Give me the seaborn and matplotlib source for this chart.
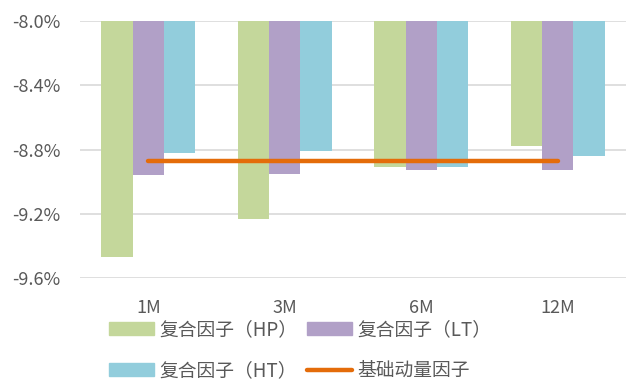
import pandas as pd
import seaborn as sns
import matplotlib.pyplot as plt
from matplotlib.ticker import FuncFormatter
from matplotlib.patches import Patch
from matplotlib.lines import Line2D

# 数据（单位：%）
periods = ["1M", "3M", "6M", "12M"]
hp = [-9.47, -9.23, -8.91, -8.78]
lt = [-8.96, -8.95, -8.93, -8.93]
ht = [-8.82, -8.81, -8.91, -8.84]
base = [-8.87, -8.87, -8.87, -8.87]

names = ["复合因子（HP）", "复合因子（LT）", "复合因子（HT）"]
base_name = "基础动量因子"
colors = ["#C4D79B", "#B1A0C7", "#92CDDC"]
orange = "#E46C0A"
grey = "#595959"

df = pd.DataFrame({
    "期限": periods * 3,
    "收益": hp + lt + ht,
    "因子": [names[0]] * 4 + [names[1]] * 4 + [names[2]] * 4,
})

sns.set_style("white")
plt.rcParams["font.family"] = ["Noto Sans CJK SC", "DejaVu Sans"]

fig = plt.figure(figsize=(6.33, 3.9), dpi=100)
ax = fig.add_axes([80 / 633, 1 - 278 / 390, 546 / 633, 257 / 390])

# 柱状图（从0开始，被 -8.0% 的上边界截断）
sns.barplot(data=df, x="期限", y="收益", hue="因子", palette=colors,
            width=0.69, saturation=1, linewidth=0, ax=ax, legend=False,
            zorder=2)
# 基础动量因子折线
sns.lineplot(x=list(range(len(periods))), y=base, color=orange,
             linewidth=3.2, ax=ax, zorder=3)

ax.set_ylim(-9.6, -8.0)
ax.set_xlim(-0.5, 3.5)
ax.set_yticks([-9.6, -9.2, -8.8, -8.4, -8.0])
ax.yaxis.set_major_formatter(FuncFormatter(lambda v, p: f"{v:.1f}%"))
ax.grid(axis="y", color="#D9D9D9", linewidth=1.2, zorder=0)
ax.set_axisbelow(True)
for s in ax.spines.values():
    s.set_visible(False)
ax.set_xlabel("")
ax.set_ylabel("")
ax.tick_params(axis="y", length=0, pad=14, labelsize=13, labelcolor=grey)
ax.tick_params(axis="x", length=0, pad=15, labelsize=13, labelcolor=grey)

# 图例（两行两列）
handles = [
    Patch(color=colors[0]),
    Patch(color=colors[2]),
    Patch(color=colors[1]),
    Line2D([], [], color=orange, linewidth=3.2),
]
labels = [names[0], names[2], names[1], base_name]
fig.legend(handles, labels, ncol=2, loc="upper left",
           bbox_to_anchor=(100 / 633, 1 - 310 / 390), frameon=False,
           fontsize=13.5, labelcolor=grey, handlelength=2.4,
           handletextpad=0.25, columnspacing=0.55, labelspacing=1.05,
           borderpad=0)

fig.savefig("out.png", dpi=100)
